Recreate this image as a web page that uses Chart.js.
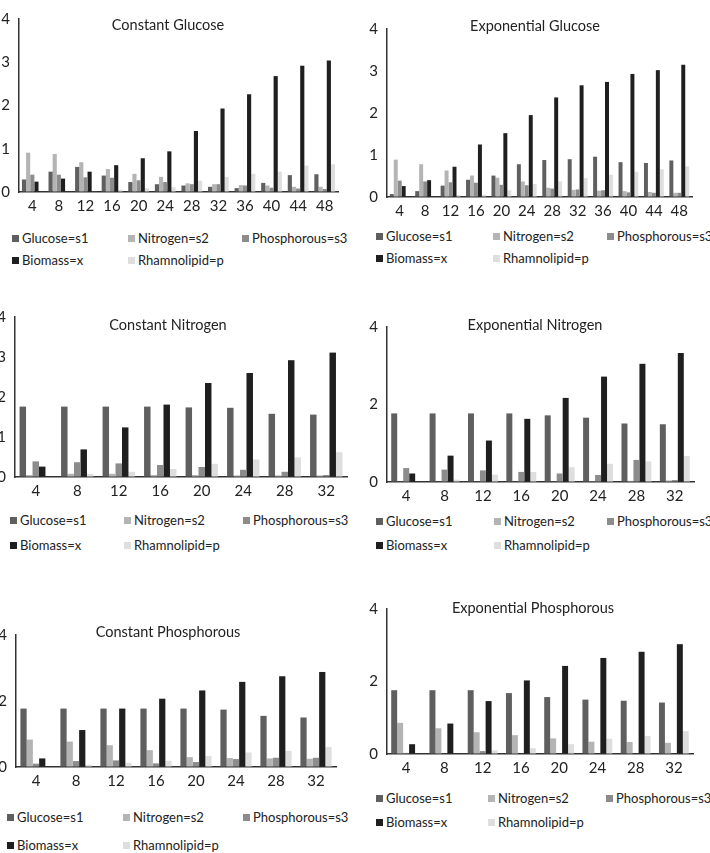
<!DOCTYPE html>
<html>
<head>
<meta charset="utf-8">
<script src="https://cdn.jsdelivr.net/npm/chart.js@4"></script>
<style>
  body { margin: 0; background: #fff; }
  #page { position: relative; width: 710px; height: 853px; overflow: hidden; font-family: Lato, "Open Sans", sans-serif; color: #222; }
  canvas { position: absolute; }
  .title { position: absolute; font-size: 14.5px; transform: translate(-50%, -50%); white-space: nowrap; }
  .leg { position: absolute; font-size: 13px; white-space: nowrap; transform: translateY(-50%); display: flex; align-items: center; }
  .leg span.box { display: inline-block; width: 7px; height: 7px; margin-right: 3px; }
</style>
</head>
<body>
<div id="page"></div>
<script>
// time points (h)
let hours12 = ["4", "8", "12", "16", "20", "24", "28", "32", "36", "40", "44", "48"];
let hours8 = ["4", "8", "12", "16", "20", "24", "28", "32"];

let seriesNames = ["Glucose=s1", "Nitrogen=s2", "Phosphorous=s3", "Biomass=x", "Rhamnolipid=p"];
let seriesColors = ["#5f5f5f", "#b4b4b4", "#8c8c8c", "#1f1f1f", "#dedede"];

// Constant Glucose
let cgS1 = [0.29, 0.47, 0.58, 0.38, 0.23, 0.18, 0.15, 0.12, 0.09, 0.21, 0.39, 0.41];
let cgS2 = [0.91, 0.88, 0.69, 0.53, 0.42, 0.35, 0.20, 0.18, 0.16, 0.15, 0.12, 0.12];
let cgS3 = [0.40, 0.40, 0.34, 0.33, 0.27, 0.23, 0.18, 0.18, 0.15, 0.10, 0.08, 0.07];
let cgX  = [0.24, 0.31, 0.47, 0.62, 0.78, 0.94, 1.41, 1.93, 2.26, 2.68, 2.92, 3.04];
let cgP  = [0.00, 0.00, 0.01, 0.05, 0.09, 0.11, 0.26, 0.35, 0.42, 0.47, 0.61, 0.64];

// Exponential Glucose
let egS1 = [0.07, 0.14, 0.27, 0.41, 0.51, 0.78, 0.88, 0.90, 0.96, 0.83, 0.81, 0.87];
let egS2 = [0.89, 0.78, 0.63, 0.51, 0.46, 0.37, 0.22, 0.17, 0.15, 0.14, 0.12, 0.10];
let egS3 = [0.39, 0.37, 0.35, 0.34, 0.29, 0.28, 0.20, 0.18, 0.16, 0.11, 0.10, 0.10];
let egX  = [0.26, 0.40, 0.72, 1.25, 1.52, 1.95, 2.37, 2.66, 2.74, 2.93, 3.02, 3.15];
let egP  = [0.00, 0.00, 0.05, 0.05, 0.16, 0.31, 0.37, 0.45, 0.53, 0.60, 0.66, 0.73];

// Constant Nitrogen
let cnS1 = [1.76, 1.76, 1.76, 1.76, 1.74, 1.73, 1.58, 1.56];
let cnS2 = [0.05, 0.08, 0.08, 0.05, 0.05, 0.04, 0.04, 0.04];
let cnS3 = [0.39, 0.37, 0.34, 0.30, 0.25, 0.18, 0.13, 0.05];
let cnX  = [0.26, 0.69, 1.24, 1.81, 2.35, 2.60, 2.92, 3.11];
let cnP  = [0.00, 0.08, 0.13, 0.20, 0.33, 0.44, 0.49, 0.62];

// Exponential Nitrogen
let enS1 = [1.77, 1.77, 1.77, 1.77, 1.72, 1.66, 1.51, 1.49];
let enS2 = [0.01, 0.01, 0.01, 0.01, 0.01, 0.02, 0.03, 0.04];
let enS3 = [0.36, 0.32, 0.30, 0.26, 0.22, 0.18, 0.57, 0.05];
let enX  = [0.22, 0.68, 1.07, 1.63, 2.17, 2.72, 3.05, 3.33];
let enP  = [0.00, 0.06, 0.19, 0.26, 0.38, 0.47, 0.53, 0.67];

// Constant Phosphorous
let cpS1 = [1.77, 1.77, 1.77, 1.77, 1.77, 1.74, 1.55, 1.50];
let cpS2 = [0.83, 0.77, 0.66, 0.51, 0.30, 0.27, 0.26, 0.25];
let cpS3 = [0.10, 0.18, 0.20, 0.11, 0.15, 0.24, 0.28, 0.28];
let cpX  = [0.26, 1.12, 1.77, 2.07, 2.32, 2.58, 2.75, 2.88];
let cpP  = [0.00, 0.07, 0.13, 0.19, 0.33, 0.44, 0.49, 0.61];

// Exponential Phosphorous
let epS1 = [1.76, 1.76, 1.76, 1.68, 1.57, 1.50, 1.47, 1.42];
let epS2 = [0.86, 0.71, 0.60, 0.52, 0.43, 0.34, 0.33, 0.31];
let epS3 = [0.03, 0.00, 0.08, 0.00, 0.00, 0.00, 0.00, 0.00];
let epX  = [0.27, 0.84, 1.46, 2.03, 2.43, 2.65, 2.82, 3.03];
let epP  = [0.00, 0.00, 0.10, 0.16, 0.27, 0.42, 0.50, 0.63];

// panel placement: plot box (left, top = value 4, right, bottom = value 0), title centre, legend rows/columns
let panels = [
    { title: "Constant Glucose", labels: hours12, data: [cgS1, cgS2, cgS3, cgX, cgP], step: 1,
      box: [19, 9, 338, 192], titlePos: [168, 24], legRows: [238, 260], legCols: [12, 128, 242] },
    { title: "Exponential Glucose", labels: hours12, data: [egS1, egS2, egS3, egX, egP], step: 1,
      box: [387, 19, 692, 197], titlePos: [535, 25], legRows: [236, 258], legCols: [376, 493, 607] },
    { title: "Constant Nitrogen", labels: hours8, data: [cnS1, cnS2, cnS3, cnX, cnP], step: 1,
      box: [15, 307, 347, 477], titlePos: [168, 324], legRows: [520, 545], legCols: [10, 124, 243] },
    { title: "Exponential Nitrogen", labels: hours8, data: [enS1, enS2, enS3, enX, enP], step: 2,
      box: [387, 317, 694, 482], titlePos: [535, 324], legRows: [521, 545], legCols: [376, 494, 607] },
    { title: "Constant Phosphorous", labels: hours8, data: [cpS1, cpS2, cpS3, cpX, cpP], step: 2,
      box: [16, 625, 336, 767], titlePos: [168, 631], legRows: [817, 845], legCols: [7, 123, 243] },
    { title: "Exponential Phosphorous", labels: hours8, data: [epS1, epS2, epS3, epX, epP], step: 2,
      box: [387, 599, 693, 754], titlePos: [533, 607], legRows: [798, 822], legCols: [376, 488, 606] }
];

let page = document.getElementById("page");
let tickFont = { family: "Lato, 'Open Sans', sans-serif", size: 15 };
let axisW = 20, axisH = 22, padTop = 8, padRight = 4;

panels.forEach(panel => {
    let [L, T, R, B] = panel.box;
    let canvas = document.createElement("canvas");
    canvas.width = R - L + axisW + padRight;
    canvas.height = B - T + padTop + axisH;
    canvas.style.left = (L - axisW) + "px";
    canvas.style.top = (T - padTop) + "px";
    page.appendChild(canvas);

    new Chart(canvas.getContext("2d"), {
        type: "bar",
        data: {
            labels: panel.labels,
            datasets: panel.data.map((values, i) => ({
                label: seriesNames[i],
                data: values,
                backgroundColor: seriesColors[i],
                borderWidth: 0,
                barPercentage: 1,
                categoryPercentage: 0.78
            }))
        },
        options: {
            responsive: false,
            animation: false,
            devicePixelRatio: 1,
            layout: { padding: { top: padTop, right: padRight, left: 0, bottom: 0 } },
            plugins: { legend: { display: false }, title: { display: false }, tooltip: { enabled: false } },
            scales: {
                x: {
                    grid: { display: true, drawOnChartArea: false, drawTicks: false },
                    border: { display: true, color: "#333", width: 1.5 },
                    ticks: { font: tickFont, color: "#222", padding: 5, maxRotation: 0, autoSkip: false },
                    afterFit: scale => { scale.height = axisH; }
                },
                y: {
                    min: 0,
                    max: 4,
                    grid: { display: true, drawOnChartArea: false, drawTicks: false },
                    border: { display: true, color: "#333", width: 1.5 },
                    ticks: { stepSize: panel.step, font: tickFont, color: "#222", padding: 9 },
                    afterFit: scale => { scale.width = axisW; }
                }
            }
        }
    });

    let title = document.createElement("div");
    title.className = "title";
    title.textContent = panel.title;
    title.style.left = panel.titlePos[0] + "px";
    title.style.top = panel.titlePos[1] + "px";
    page.appendChild(title);

    // legend: 3 columns, 2 rows
    seriesNames.forEach((name, i) => {
        let item = document.createElement("div");
        item.className = "leg";
        item.style.left = panel.legCols[i % 3] + "px";
        item.style.top = panel.legRows[Math.floor(i / 3)] + "px";
        item.innerHTML = `<span class="box" style="background:${seriesColors[i]}"></span>${name}`;
        page.appendChild(item);
    });
});
</script>
</body>
</html>
